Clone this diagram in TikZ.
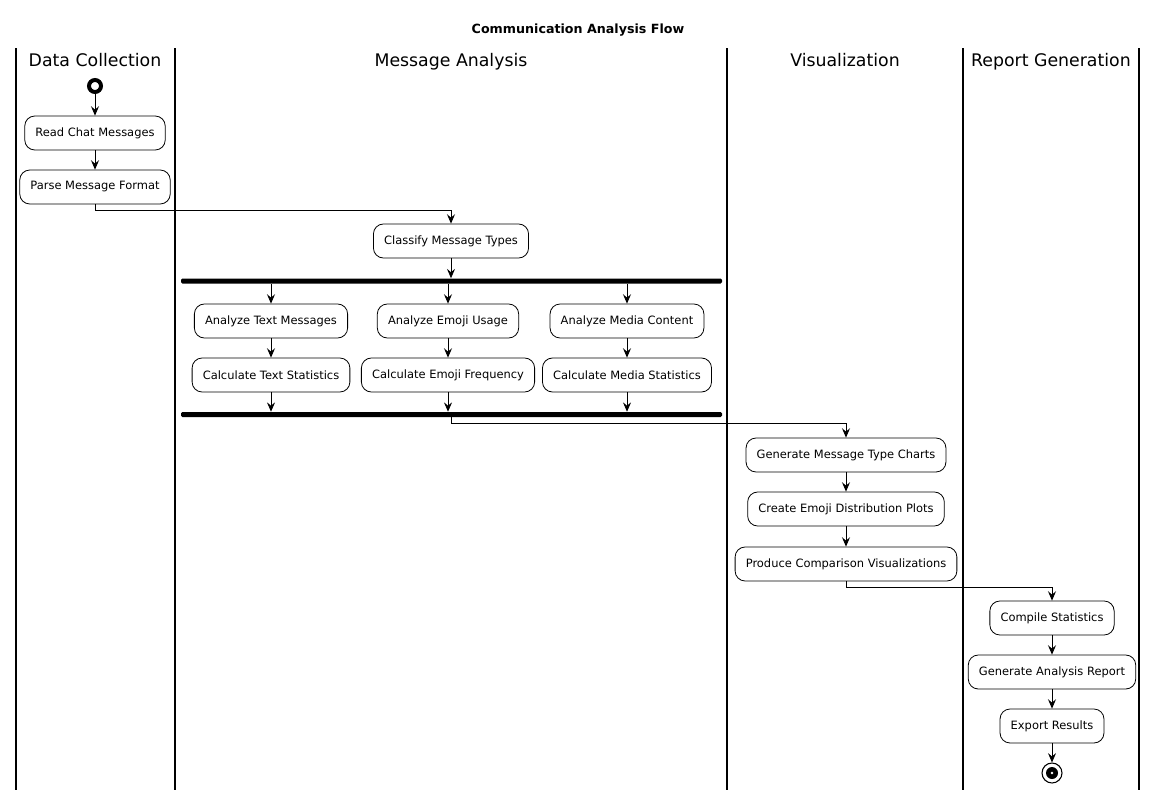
\documentclass[tikz,border=0pt]{standalone}
\usepackage{fontspec}
\setmainfont{DejaVu Sans}
\usetikzlibrary{arrows.meta}

\begin{document}
\begin{tikzpicture}[x=0.75pt,y=-0.75pt,
	act/.style={draw,rounded corners=7.5pt,line width=0.6pt,minimum height=25.5pt,
		inner xsep=8pt,font=\fontsize{8.6}{10}\selectfont},
	lane/.style={anchor=base,font=\fontsize{13}{15}\selectfont},
	bar/.style={fill=black,rounded corners=1pt,minimum width=405.75pt,minimum height=3.75pt,inner sep=0pt},
	flow/.style={line width=0.6pt,-{Stealth[length=7pt,width=6pt,inset=2.5pt]}}]

	\useasboundingbox (0,0) rectangle (1158,796);

	% title and swimlanes
	\node[anchor=base] (title) at (578,33) {\fontsize{9.5}{11}\selectfont\bfseries Communication Analysis Flow};
	\foreach \x in {16,175,727,963,1139}
		\draw[line width=1.5pt] (\x,48) -- (\x,790);
	\node[lane] (l1) at (95,66)   {Data Collection};
	\node[lane] (l2) at (451,66)  {Message Analysis};
	\node[lane] (l3) at (845,66)  {Visualization};
	\node[lane] (l4) at (1051,66) {Report Generation};

	% Data Collection
	\node[circle,draw,line width=3pt,fill=white,minimum size=9pt,inner sep=0pt] (start) at (95,86) {};
	\node[act] (read)  at (95,133) {Read Chat Messages};
	\node[act] (parse) at (95,187) {Parse Message Format};

	% Message Analysis
	\node[act] (classify) at (451,241) {Classify Message Types};
	\node[bar] (fork) at (451.5,281) {};
	\node[act] (atext)  at (271,321) {Analyze Text Messages};
	\node[act] (aemoji) at (448,321) {Analyze Emoji Usage};
	\node[act] (amedia) at (627,321) {Analyze Media Content};
	\node[act] (ctext)  at (271,375) {Calculate Text Statistics};
	\node[act] (cemoji) at (448,375) {Calculate Emoji Frequency};
	\node[act] (cmedia) at (627,375) {Calculate Media Statistics};
	\node[bar] (join) at (451.5,414.5) {};

	% Visualization
	\node[act] (charts)  at (846,455) {Generate Message Type Charts};
	\node[act] (plots)   at (846,509) {Create Emoji Distribution Plots};
	\node[act] (compare) at (846,564) {Produce Comparison Visualizations};

	% Report Generation
	\node[act] (stats)  at (1052,618) {Compile Statistics};
	\node[act] (report) at (1052,672) {Generate Analysis Report};
	\node[act] (export) at (1052,726) {Export Results};
	\node[circle,draw,line width=0.8pt,minimum size=15pt,inner sep=0pt] (end) at (1052,773) {};
	\fill (end.center) circle (4.5pt);
	\fill[white] (end.center) circle (1pt);

	\draw[flow] (start) -- (read);
	\draw[flow] (read) -- (parse);
	\draw[flow] (parse.south) -- ++(0,6) -| (classify.north);
	\draw[flow] (classify.south) -- (classify.south |- fork.north);
	\foreach \n in {atext,aemoji,amedia}
		\draw[flow] (\n.north |- fork.south) -- (\n.north);
	\draw[flow] (atext) -- (ctext);
	\draw[flow] (aemoji) -- (cemoji);
	\draw[flow] (amedia) -- (cmedia);
	\foreach \n in {ctext,cemoji,cmedia}
		\draw[flow] (\n.south) -- (\n.south |- join.north);
	\draw[flow] (join.south) -- ++(0,6) -| (charts.north);
	\draw[flow] (charts) -- (plots);
	\draw[flow] (plots) -- (compare);
	\draw[flow] (compare.south) -- ++(0,6) -| (stats.north);
	\draw[flow] (stats) -- (report);
	\draw[flow] (report) -- (export);
	\draw[flow] (export) -- (end);

\end{tikzpicture}
\end{document}
